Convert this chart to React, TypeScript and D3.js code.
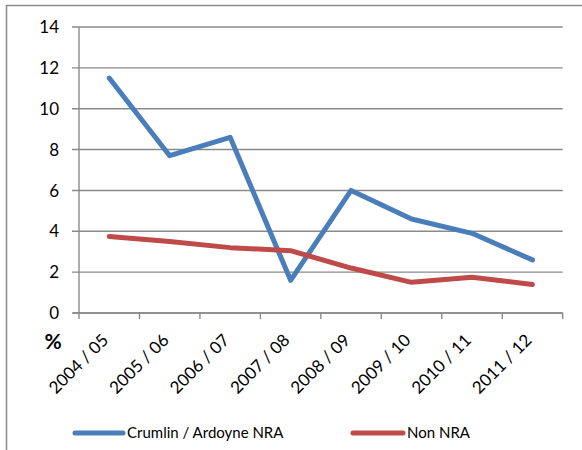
import * as d3 from 'd3';

const categories = ['2004 / 05', '2005 / 06', '2006 / 07', '2007 / 08', '2008 / 09', '2009 / 10', '2010 / 11', '2011 / 12'];
const crumlinValues = [11.5, 7.7, 8.6, 1.6, 6.0, 4.6, 3.9, 2.6];
const nonNraValues = [3.75, 3.5, 3.2, 3.05, 2.2, 1.5, 1.75, 1.4];
const yTicks = [0, 2, 4, 6, 8, 10, 12, 14];

const series = [
  { name: 'Crumlin / Ardoyne NRA', values: crumlinValues, color: '#4A7EBB' },
  { name: 'Non NRA', values: nonNraValues, color: '#BE4B48' },
];

export default function App() {
  const width = 582;
  const height = 450;
  const left = 79;
  const right = 562.7;
  const top = 27;
  const bottom = 313;
  const font = 'Lato, "Open Sans", sans-serif';

  const x = d3.scaleBand<string>().domain(categories).range([left, right]);
  const y = d3.scaleLinear().domain([0, 14]).range([bottom, top]);
  const cx = (c: string) => (x(c) ?? 0) + x.bandwidth() / 2;

  const line = d3
    .line<number>()
    .x((_, i) => cx(categories[i]))
    .y((d) => y(d));

  const tickXs = [...categories.map((c) => x(c) ?? 0), right];
  const legendItems = [
    { ...series[0], x1: 75, x2: 123 },
    { ...series[1], x1: 353, x2: 403 },
  ];

  return (
    <svg
      width={width}
      height={height}
      style={{ position: 'absolute', left: 0, top: 0, background: '#fff' }}
      fontFamily={font}
    >
      {/* chart area border */}
      <path d={`M6.5,${height} V5.5 H${width}`} fill="none" stroke="#898989" strokeWidth={1.5} />

      {yTicks.map((t) => (
        <g key={t}>
          <line x1={72} x2={right} y1={y(t)} y2={y(t)} stroke="#8a8a8a" strokeWidth={1.4} />
          <text x={59} y={y(t)} dy="0.36em" textAnchor="end" fontSize={17} fill="#000">
            {t}
          </text>
        </g>
      ))}
      <line x1={left} x2={left} y1={top} y2={bottom} stroke="#8a8a8a" strokeWidth={1.4} />
      <line x1={73} x2={right} y1={bottom} y2={bottom} stroke="#8a8a8a" strokeWidth={1.4} />
      {tickXs.map((tx, i) => (
        <line key={i} x1={tx} x2={tx} y1={bottom} y2={bottom + 6} stroke="#8a8a8a" strokeWidth={1.4} />
      ))}

      {categories.map((c) => (
        <text
          key={c}
          transform={`translate(${cx(c) - 4},${bottom + 24}) rotate(-45)`}
          textAnchor="end"
          dy="0.35em"
          fontSize={17}
          fill="#000"
        >
          {c}
        </text>
      ))}

      <text x={53} y={349} textAnchor="middle" fontSize={21} fontWeight="bold" fill="#000">
        %
      </text>

      {series.map((s) => (
        <path
          key={s.name}
          d={line(s.values) ?? ''}
          fill="none"
          stroke={s.color}
          strokeWidth={5}
          strokeLinejoin="round"
          strokeLinecap="round"
        />
      ))}

      {legendItems.map((l) => (
        <g key={l.name}>
          <line x1={l.x1} x2={l.x2} y1={433} y2={433} stroke={l.color} strokeWidth={5} strokeLinecap="round" />
          <text x={l.x2 + 4} y={433} dy="0.36em" fontSize={15} fill="#000">
            {l.name}
          </text>
        </g>
      ))}
    </svg>
  );
}
